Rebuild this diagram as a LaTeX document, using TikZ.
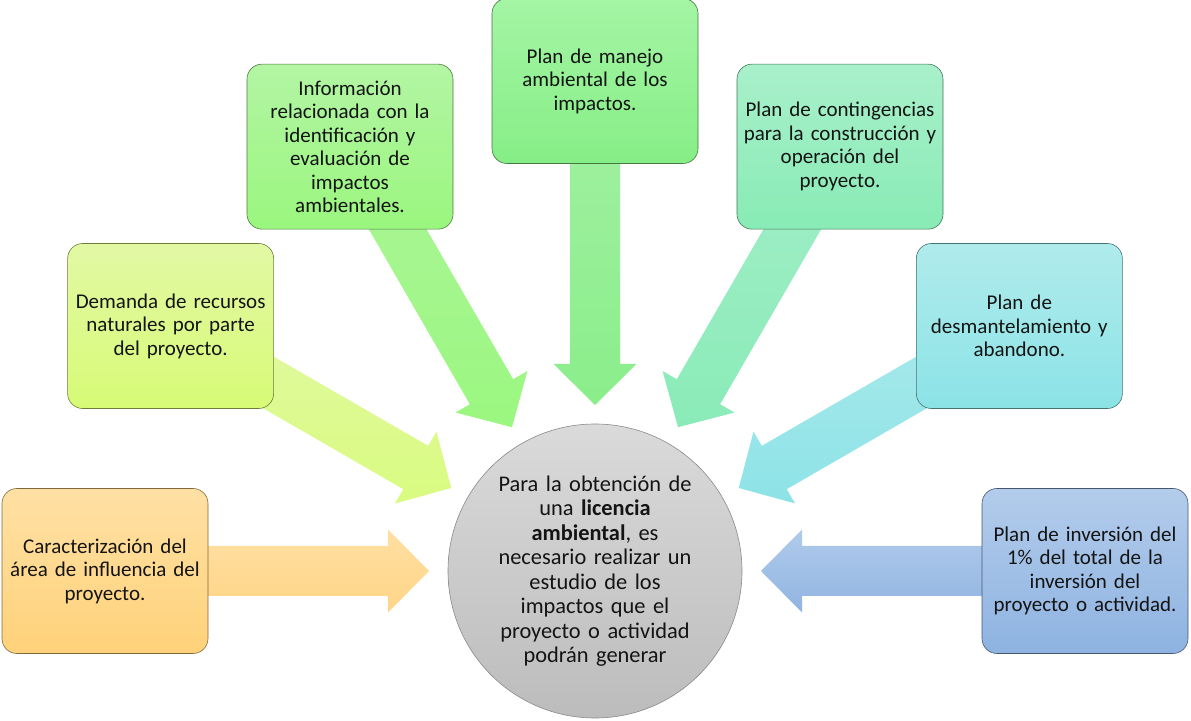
\documentclass[tikz,border=0pt]{standalone}
\usepackage{fontspec}
\setmainfont{Carlito}
\usetikzlibrary{calc,backgrounds}
\definecolor{txt}{HTML}{141414}
\definecolor{hubtop}{HTML}{DADADA}
\definecolor{hubbot}{HTML}{BCBCBC}
\definecolor{hubline}{HTML}{8A8A8A}
% boxes
\definecolor{b1t}{HTML}{FFE0A4}\definecolor{b1b}{HTML}{FFD27A}
\definecolor{b2t}{HTML}{E2F9A4}\definecolor{b2b}{HTML}{D7FA76}
\definecolor{b3t}{HTML}{B3F5A4}\definecolor{b3b}{HTML}{9AF67E}
\definecolor{b4t}{HTML}{A4F5A4}\definecolor{b4b}{HTML}{86EE86}
\definecolor{b5t}{HTML}{A9F0CB}\definecolor{b5b}{HTML}{88EBB5}
\definecolor{b6t}{HTML}{B0EBEC}\definecolor{b6b}{HTML}{8BE3E6}
\definecolor{b7t}{HTML}{B3CCEB}\definecolor{b7b}{HTML}{8EB3E1}
% arrows
\definecolor{a1t}{HTML}{FFDFA2}\definecolor{a1b}{HTML}{FFD587}
\definecolor{a2t}{HTML}{E0F9A0}\definecolor{a2b}{HTML}{D9FB80}
\definecolor{a3t}{HTML}{AAF596}\definecolor{a3b}{HTML}{9BF780}
\definecolor{a4t}{HTML}{A0F0A0}\definecolor{a4b}{HTML}{8AEE8A}
\definecolor{a5t}{HTML}{A0EEC6}\definecolor{a5b}{HTML}{8AEBB8}
\definecolor{a6t}{HTML}{A8E9EB}\definecolor{a6b}{HTML}{8DE3E6}
\definecolor{a7t}{HTML}{B0CBEB}\definecolor{a7b}{HTML}{90B4E1}
\newcommand\spokearrow[3]{%
  \coordinate (sT) at ($(hub.center)!166pt!(#1.center)$);
  \coordinate (sH) at ($(hub.center)!207pt!(#1.center)$);
  \coordinate (sE) at ($(hub.center)!450pt!(#1.center)$);
  \shade[top color=#2,bottom color=#3] (sT)
    -- ($(sH)!41.5pt!90:(#1.center)$) -- ($(sH)!25pt!90:(#1.center)$)
    -- ($(sE)!25pt!90:(#1.center)$) -- ($(sE)!25pt!-90:(#1.center)$)
    -- ($(sH)!25pt!-90:(#1.center)$) -- ($(sH)!41.5pt!-90:(#1.center)$) -- cycle;}
\begin{document}
\begin{tikzpicture}[x=1pt,y=1pt,
  box/.style={rounded corners=15pt, minimum width=206pt, minimum height=165pt,
    text width=196pt, align=center, inner sep=0pt,
    font=\fontsize{21}{23.5}\selectfont, text=txt, line width=0.6pt,
    top color=#1t, bottom color=#1b, draw=#1b!50!black},
  hub/.style={circle, minimum size=294pt, inner sep=0pt, text width=200pt,
    align=center, font=\fontsize{22.4}{24.5}\selectfont, text=txt,
    draw=hubline, line width=0.6pt, top color=hubtop, bottom color=hubbot}]
\useasboundingbox (0,0) rectangle (1191,720);
\coordinate (C) at (595,149);
\node[hub] (hub) at (C) {Para la obtención de\\ una \textbf{licencia}\\ \textbf{ambiental}, es\\ necesario realizar un\\ estudio de los\\ impactos que el\\ proyecto o actividad\\ podrán generar};
\node[box=b1] (b1) at ([shift={(180:490)}]C) {Caracterización del\\ área de influencia del\\ proyecto.};
\node[box=b2] (b2) at ([shift={(150:490)}]C) {Demanda de recursos\\ naturales por parte\\ del proyecto.};
\node[box=b3] (b3) at ([shift={(120:490)}]C) {Información\\ relacionada con la\\ identificación y\\ evaluación de\\ impactos\\ ambientales.};
\node[box=b4] (b4) at ([shift={(90:490)}]C) {Plan de manejo\\ ambiental de los\\ impactos.};
\node[box=b5] (b5) at ([shift={(60:490)}]C) {Plan de contingencias\\ para la construcción y\\ operación del\\ proyecto.};
\node[box=b6] (b6) at ([shift={(30:490)}]C) {Plan de\\ desmantelamiento y\\ abandono.};
\node[box=b7] (b7) at ([shift={(0:490)}]C) {Plan de inversión del\\ 1\% del total de la\\ inversión del\\ proyecto o actividad.};
\begin{scope}[on background layer]
  \spokearrow{b1}{a1t}{a1b}
  \spokearrow{b2}{a2t}{a2b}
  \spokearrow{b3}{a3t}{a3b}
  \spokearrow{b4}{a4t}{a4b}
  \spokearrow{b5}{a5t}{a5b}
  \spokearrow{b6}{a6t}{a6b}
  \spokearrow{b7}{a7t}{a7b}
\end{scope}
\end{tikzpicture}
\end{document}
